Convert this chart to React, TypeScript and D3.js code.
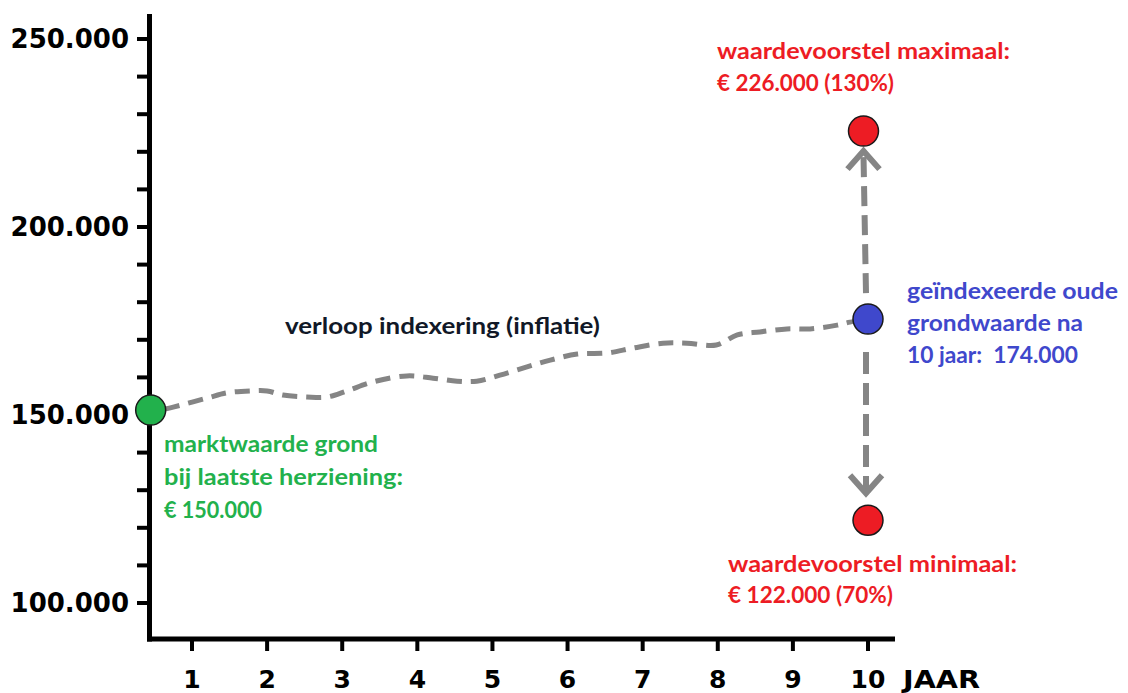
import React from "react";
import * as d3 from "d3";

// ---- data ----
const yTickValues = [100, 110, 120, 130, 140, 150, 160, 170, 180, 190, 200, 210, 220, 230, 240, 250];
const yLabelValues = [100, 150, 200, 250];
const yLabels = ["100.000", "150.000", "200.000", "250.000"];
const xTickValues = [1, 2, 3, 4, 5, 6, 7, 8, 9, 10];
const xLabels = ["1", "2", "3", "4", "5", "6", "7", "8", "9", "10"];
const xAxisTitle = "JAAR";

// inflation path (year, value in thousands)
const inflYears = [0.64, 0.75, 1.2, 1.47, 1.77, 2.0, 2.21, 2.53, 2.8, 3.06, 3.41, 3.86, 4.21, 4.53, 4.79, 5.1, 5.46, 5.77, 6.13, 6.53, 6.87, 7.27, 7.59, 7.98, 8.26, 8.56, 8.92, 9.23, 9.59, 9.76, 10];
const inflValues = [151.6, 152.1, 154.5, 155.9, 156.4, 156.4, 155.3, 154.8, 154.8, 156.4, 158.8, 160.4, 159.8, 159.0, 159.0, 160.6, 162.8, 164.6, 166.2, 166.5, 167.8, 169.1, 169.1, 168.6, 171.3, 172.1, 172.9, 172.9, 173.9, 174.7, 175.5];

// key points
const startPoint = { year: 0.45, value: 151.3 };
const indexedPoint = { year: 10, value: 175.5 };
const maxPoint = { year: 9.94, value: 225.5 };
const minPoint = { year: 10, value: 122 };

const inflLabel = "verloop indexering (inflatie)";
const greenLines = ["marktwaarde grond", "bij laatste herziening:", "€ 150.000"];
const blueLines = ["geïndexeerde oude", "grondwaarde na", "10 jaar:  174.000"];
const maxLines = ["waardevoorstel maximaal:", "€ 226.000 (130%)"];
const minLines = ["waardevoorstel minimaal:", "€ 122.000 (70%)"];

const GREEN = "#22b14c";
const RED = "#ed1c24";
const BLUE = "#3f48cc";
const GRAY = "#858585";

export default function App() {
  const W = 1128, H = 693;
  const x = d3.scaleLinear().domain([1, 10]).range([192, 868]);
  const y = d3.scaleLinear().domain([100, 250]).range([603, 39]);

  const axisX = 149.5;
  const axisY = 639;
  const annoFont = "Lato, 'Open Sans', sans-serif";
  const axisFont = "'DejaVu Sans', sans-serif";

  const inflData = inflYears.map((yr, i) => [x(yr), y(inflValues[i])] as [number, number]);
  const inflPath = d3.line().curve(d3.curveCatmullRom.alpha(0.5))(inflData) || "";

  const ix = x(indexedPoint.year), iy = y(indexedPoint.value);
  const upTipX = x(maxPoint.year), upTipY = y(maxPoint.value) + 20;
  const downTipX = x(minPoint.year) - 2, downTipY = y(minPoint.value) - 27;

  const textBlock = (lines: string[], x0: number, y0: number, dy: number, color: string, widths: number[], size = 22) =>
    lines.map((t, i) => (
      <text key={i} x={x0} y={y0 + i * dy} fill={color} fontFamily={annoFont} fontWeight={700} fontSize={size}
        textLength={widths[i]} lengthAdjust="spacingAndGlyphs" style={{ whiteSpace: "pre" }}>{t}</text>
    ));

  return (
    <svg width={W} height={H} style={{ position: "absolute", left: 0, top: 0, background: "#fff" }}>
      <rect x={0} y={0} width={W} height={H} fill="#fff" />
      {/* y ticks */}
      {yTickValues.map((v) => (
        <line key={v} x1={137} x2={axisX} y1={y(v)} y2={y(v)} stroke="#000" strokeWidth={4} />
      ))}
      {/* x ticks */}
      {xTickValues.map((v) => (
        <line key={v} x1={x(v)} x2={x(v)} y1={axisY} y2={651} stroke="#000" strokeWidth={4} />
      ))}
      {/* axes */}
      <line x1={axisX} x2={axisX} y1={14} y2={axisY + 2.5} stroke="#000" strokeWidth={5} />
      <line x1={axisX - 2.5} x2={895} y1={axisY} y2={axisY} stroke="#000" strokeWidth={5} />
      {/* y labels */}
      {yLabelValues.map((v, i) => (
        <text key={v} x={129} y={y(v)} dy="0.36em" textAnchor="end" fontFamily={axisFont} fontWeight={700}
          fontSize={26} fill="#000">{yLabels[i]}</text>
      ))}
      {/* x labels */}
      {xTickValues.map((v, i) => (
        <text key={v} x={x(v)} y={688} textAnchor="middle" fontFamily={axisFont} fontWeight={700}
          fontSize={25} fill="#000">{xLabels[i]}</text>
      ))}
      <text x={903} y={688} fontFamily={axisFont} fontWeight={700} fontSize={25} fill="#000"
        textLength={77} lengthAdjust="spacingAndGlyphs">{xAxisTitle}</text>

      {/* inflation line */}
      <path d={inflPath} fill="none" stroke={GRAY} strokeWidth={5} strokeDasharray="15 9" />

      {/* up arrow */}
      <line x1={ix - 2} y1={iy - 26} x2={upTipX} y2={upTipY + 4} stroke={GRAY} strokeWidth={6} strokeDasharray="20 9" />
      <polyline points={`${upTipX - 16},${upTipY + 18} ${upTipX},${upTipY} ${upTipX + 16},${upTipY + 18}`}
        fill="none" stroke={GRAY} strokeWidth={6} strokeLinejoin="miter" />
      {/* down arrow */}
      <line x1={downTipX} y1={iy + 33} x2={downTipX} y2={downTipY - 4} stroke={GRAY} strokeWidth={6} strokeDasharray="22 9" />
      <polyline points={`${downTipX - 16},${downTipY - 18} ${downTipX},${downTipY} ${downTipX + 16},${downTipY - 18}`}
        fill="none" stroke={GRAY} strokeWidth={6} strokeLinejoin="miter" />

      {/* points */}
      <circle cx={x(startPoint.year)} cy={y(startPoint.value)} r={15} fill={GREEN} stroke="#1a1a1a" strokeWidth={1.5} />
      <circle cx={ix} cy={iy} r={15} fill={BLUE} stroke="#1a1a1a" strokeWidth={1.5} />
      <circle cx={x(maxPoint.year)} cy={y(maxPoint.value)} r={15} fill={RED} stroke="#1a1a1a" strokeWidth={1.5} />
      <circle cx={x(minPoint.year)} cy={y(minPoint.value)} r={15} fill={RED} stroke="#1a1a1a" strokeWidth={1.5} />

      {/* annotations */}
      <text x={285} y={334} fill="#111827" fontFamily={annoFont} fontWeight={700} fontSize={22}
        textLength={315} lengthAdjust="spacingAndGlyphs">{inflLabel}</text>
      {textBlock(greenLines, 164, 452, 33, GREEN, [214, 239, 98])}
      {textBlock(blueLines, 907, 299, 32, BLUE, [211, 176, 171])}
      {textBlock(maxLines, 717, 59, 32, RED, [293, 177])}
      {textBlock(minLines, 728, 572, 31, RED, [289, 165])}
    </svg>
  );
}
